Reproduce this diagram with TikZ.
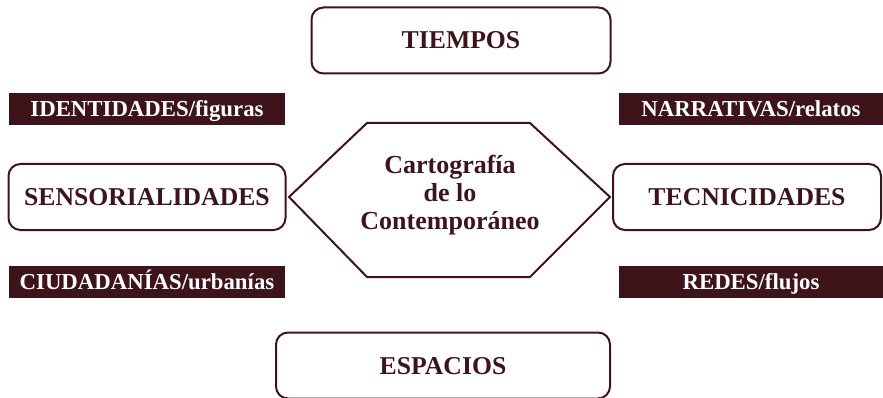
\documentclass[tikz,border=0pt]{standalone}
\usepackage{fontspec}
\setmainfont{Liberation Serif}
\usepackage{xcolor}
\definecolor{wine}{HTML}{3E141B}
\tikzset{
    rounded-box/.style = {draw=wine, line width=2pt, rectangle, rounded corners=12pt, text=wine, font=\fontsize{25.7}{28}\selectfont\bfseries, minimum height=66pt, inner sep=0pt, text height=17pt, text depth=0pt},
    wine-bar/.style = {fill=wine, text=white, rectangle, font=\fontsize{22.8}{24}\selectfont\bfseries, minimum width=276pt, minimum height=32pt, inner sep=0pt, text height=15pt, text depth=0pt},
    hex-text/.style = {text=wine, align=center, font=\fontsize{26}{28}\selectfont\bfseries},
}

\begin{document}
\begin{tikzpicture}[x=1pt, y=-1pt]
\useasboundingbox (0,0) rectangle (883,398);
% hexagon in the middle
\draw[wine, line width=2pt] (289,197) -- (367,123) -- (530,123) -- (610,197) -- (530,277) -- (367,277) -- cycle;
\node[hex-text] (carto) at (450,195) {Cartografía\\de lo\\Contemporáneo};
% boxes
\node[rounded-box, minimum width=299pt] (tiempos) at (461,40.5) {TIEMPOS};
\node[rounded-box, minimum width=334pt] (espacios) at (443,365.5) {ESPACIOS};
\node[rounded-box, minimum width=277pt] (sensorial) at (147,197) {SENSORIALIDADES};
\node[rounded-box, minimum width=268pt] (tecnic) at (747,197) {TECNICIDADES};
% bars
\node[wine-bar] (identidades) at (147,109) {IDENTIDADES/figuras};
\node[wine-bar, minimum width=264pt] (narrativas) at (751,109) {NARRATIVAS/relatos};
\node[wine-bar] (ciudadanias) at (147,282) {CIUDADANÍAS/urbanías};
\node[wine-bar, minimum width=264pt] (redes) at (751,282) {REDES/flujos};
\end{tikzpicture}
\end{document}
